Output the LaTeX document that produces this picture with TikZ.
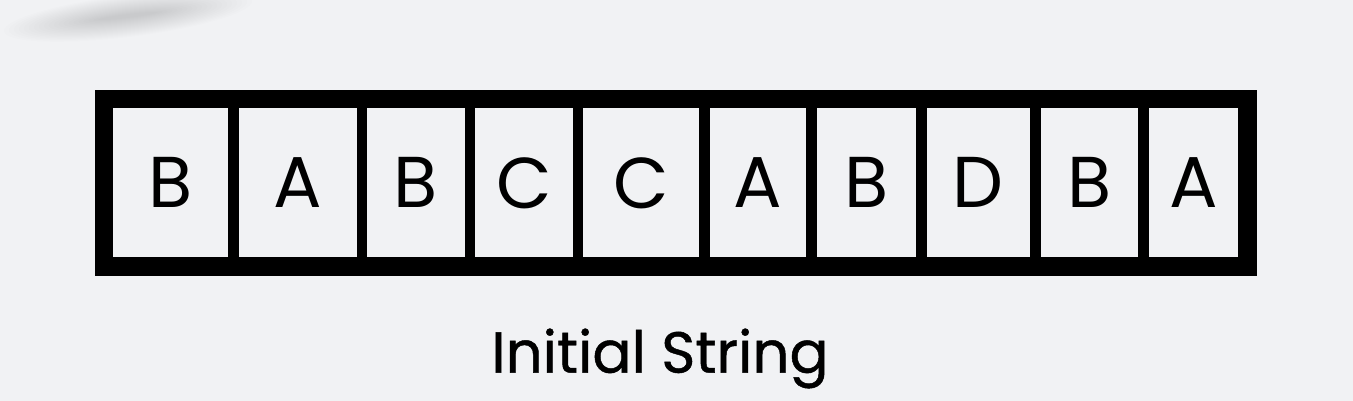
\documentclass[tikz,border=0pt]{standalone}
\usepackage{fontspec}
\setmainfont{Poppins}
\newfontfamily\captionfont[FakeBold=0.8]{Poppins}
\definecolor{bg}{RGB}{241,242,244}
\tikzset{
  cell/.style={fill=bg, draw=none, inner sep=0pt, minimum height=149pt,
               font=\fontsize{72}{80}\selectfont, text=black},
  caption/.style={anchor=base, font=\captionfont\fontsize{58}{64}\selectfont, text=black}
}
\begin{document}
\begin{tikzpicture}[x=1pt,y=-1pt]
\useasboundingbox (0,0) rectangle (1353,401);
\fill[bg] (0,0) rectangle (1353,401);
% soft shadow at top left
\foreach \i in {0,...,19} {
  \fill[black, opacity=0.008, rotate around={7:(128,16)}]
    (128,16) ellipse [x radius={125-5*\i}, y radius={21-1*\i}];
}
% frame
\fill[black] (95,90) rectangle (1256.5,276);
% cells
\foreach \l/\r/\t [count=\k] in {113.3/227.7/B, 238.7/356.7/A, 367.3/464.7/B, 475.3/572.7/C,
  583.3/699/C, 710/805.7/A, 816.7/915.7/B, 926.7/1030/D, 1041/1137.7/B, 1149/1237.7/A} {
  \node[cell, minimum width={(\r-\l)*1pt}] (c\k) at ({(\l+\r)/2}, 182.8) {\t};
}
\node[caption] (lbl) at (660,372.7) {Initial String};
\end{tikzpicture}
\end{document}
